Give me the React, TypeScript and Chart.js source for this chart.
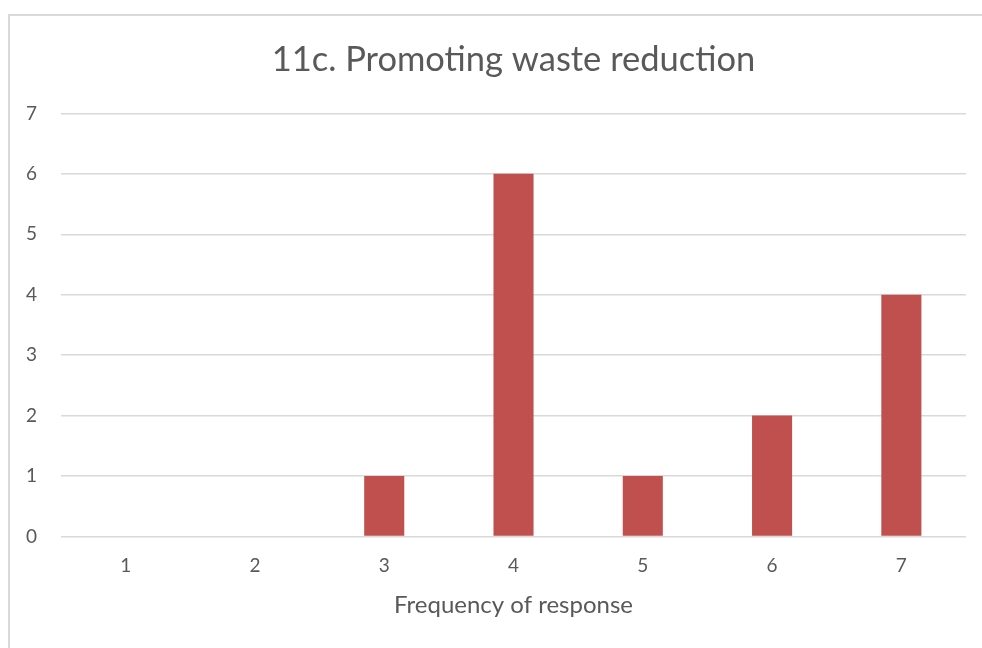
import React, { useEffect, useRef } from "react";
import { Chart, registerables } from "chart.js";

Chart.register(...registerables);

const chartTitle = "11c. Promoting waste reduction";
const xAxisTitle = "Frequency of response";
const categories = ["1", "2", "3", "4", "5", "6", "7"];
const counts = [0, 0, 1, 6, 1, 2, 4];

const FONT = "Lato";
const TEXT = "#595959";
const GRID = "#D9D9D9";

export default function App() {
  const ref = useRef<HTMLCanvasElement | null>(null);

  useEffect(() => {
    if (!ref.current) return;
    const chart = new Chart(ref.current, {
      type: "bar",
      data: {
        labels: categories,
        datasets: [
          {
            label: "Count",
            data: counts,
            backgroundColor: "#C0504D",
            borderWidth: 0,
            barPercentage: 0.31,
            categoryPercentage: 1,
          },
        ],
      },
      options: {
        animation: false,
        responsive: false,
        devicePixelRatio: 1,
        layout: { padding: { left: 2, right: 16, top: 0, bottom: 28 } },
        plugins: {
          legend: { display: false },
          tooltip: { enabled: false },
          title: {
            display: true,
            fullSize: false,
            text: chartTitle,
            color: TEXT,
            font: { family: FONT, size: 34.5, weight: "normal" },
            padding: { top: 39, bottom: 33 },
          },
        },
        scales: {
          x: {
            grid: { display: false, drawTicks: false },
            border: { display: false },
            ticks: {
              color: TEXT,
              font: { family: FONT, size: 19 },
              padding: 18.5,
            },
            title: {
              display: true,
              text: xAxisTitle,
              color: TEXT,
              font: { family: FONT, size: 24 },
              padding: { top: -5, bottom: 0 },
            },
          },
          y: {
            min: 0,
            max: 7,
            ticks: {
              stepSize: 1,
              color: TEXT,
              font: { family: FONT, size: 19 },
              padding: 24,
            },
            grid: { color: GRID, lineWidth: 1.5, drawTicks: false },
            border: { display: false },
          },
        },
      },
    });
    return () => chart.destroy();
  }, []);

  return (
    <div>
      <canvas
        ref={ref}
        width={982}
        height={648}
        style={{ position: "fixed", left: 0, top: 0, width: 982, height: 648 }}
      />
      <div
        style={{
          position: "fixed",
          left: 8,
          top: 14,
          right: 0,
          bottom: 0,
          borderTop: "2px solid #D9D9D9",
          borderLeft: "2px solid #D9D9D9",
          pointerEvents: "none",
        }}
      />
    </div>
  );
}
